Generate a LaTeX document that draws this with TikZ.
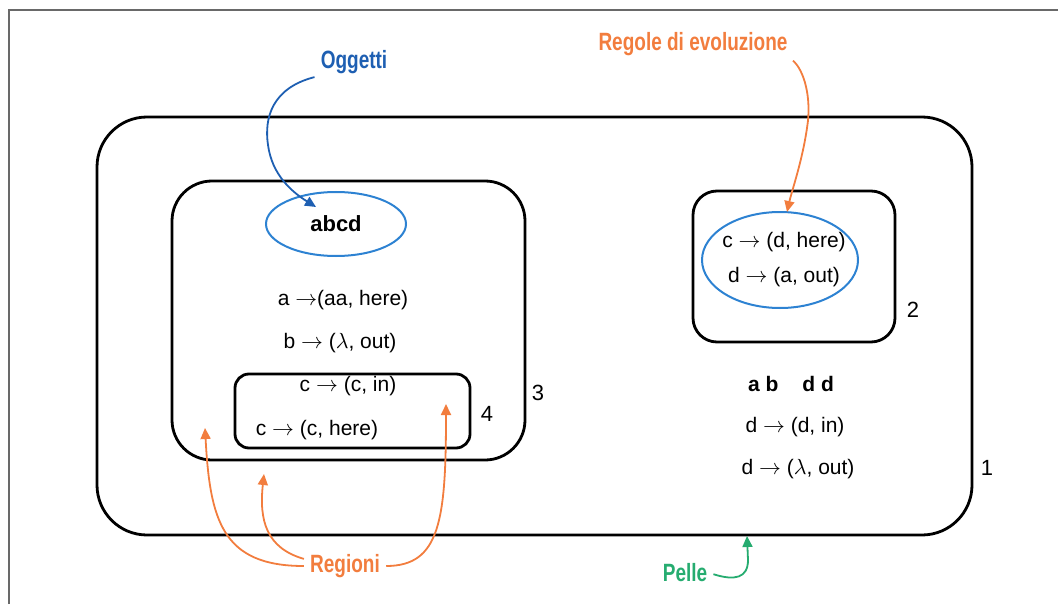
\documentclass[tikz,border=0pt]{standalone}
\usepackage{fontspec}
\setmainfont{Liberation Sans}
\newfontfamily\labelfont[FakeStretch=0.76]{Liberation Sans}
\usepackage{tikz}
\usetikzlibrary{arrows.meta}
\usetikzlibrary{positioning}
\usetikzlibrary{shapes.geometric}
\definecolor{objblue}{RGB}{30,95,178}
\definecolor{setblue}{RGB}{45,130,210}
\definecolor{ruleorange}{RGB}{242,125,62}
\definecolor{skingreen}{RGB}{38,172,112}
\definecolor{framegray}{RGB}{105,105,105}

\begin{document}
\begin{tikzpicture}[
    x=0.5pt, y=-0.5pt,
    % styles
    membrane/.style={line width=1.4pt, black},
    multiset/.style={line width=1pt, setblue},
    rule/.style={font=\fontsize{10.5}{12}\selectfont, inner sep=1pt},
    num/.style={font=\fontsize{11}{13}\selectfont, inner sep=1pt},
    tag/.style={font=\labelfont\bfseries\fontsize{12.5}{14}\selectfont, inner sep=1pt},
    pointer/.style={line width=0.9pt, shorten <=2pt, -{Triangle[length=5.5pt, width=5pt]}}]

    \useasboundingbox (0,0) rectangle (1058,604);

    % frame
    \draw [framegray, line width=0.8pt] (9,604) -- (9,10) -- (1058,10);

    % membranes
    \draw [membrane, rounded corners=25pt] (97,117) rectangle (972,535);
    \draw [membrane, rounded corners=20pt] (172,181) rectangle (525,460);
    \draw [membrane, rounded corners=7pt] (235,374) rectangle (470,448);
    \draw [membrane, rounded corners=12pt] (693,191) rectangle (895,342);

    % multisets
    \node [multiset, draw, ellipse, minimum width=70pt, minimum height=32pt,
      text=black, font=\bfseries\fontsize{11}{13}\selectfont] (objects) at (336,224) {abcd};
    \draw [multiset] (780,260) ellipse (39pt and 24pt);

    % rules, region 3 and 4
    \node [rule] (r3a) at (343,300) {a $\rightarrow$(aa, here)};
    \node [rule] (r3b) at (340,343) {b $\rightarrow$ ($\lambda$, out)};
    \node [rule] (r4a) at (348,386) {c $\rightarrow$ (c, in)};
    \node [rule] (r4b) at (317,430) {c $\rightarrow$ (c, here)};

    % rules, region 2
    \node [rule] (r2a) at (784,242) {c $\rightarrow$ (d, here)};
    \node [rule] (r2b) at (784,277) {d $\rightarrow$ (a, out)};

    % region 1
    \node [rule, font=\bfseries\fontsize{10.5}{12}\selectfont] (obj1) at (791,384)
      {a b\hspace{12pt}d d};
    \node [rule] (r1a) at (795,427) {d $\rightarrow$ (d, in)};
    \node [rule] (r1b) at (798,469) {d $\rightarrow$ ($\lambda$, out)};

    % membrane numbers
    \node [num] (n1) at (987,468) {1};
    \node [num] (n2) at (913,310) {2};
    \node [num] (n3) at (538,393) {3};
    \node [num] (n4) at (487,414) {4};

    % labels
    \node [tag, objblue] (oggetti) at (354,62) {Oggetti};
    \node [tag, ruleorange] (regole) at (693,44) {Regole di evoluzione};
    \node [tag, ruleorange] (regioni) at (345,566) {Regioni};
    \node [tag, skingreen] (pelle) at (685,573) {Pelle};

    % arrow tips
    \coordinate (objects-tip) at (316,207);
    \coordinate (rules-tip) at (787,212);
    \coordinate (reg3-tip) at (205,428);
    \coordinate (reg1-tip) at (264,474);
    \coordinate (reg4-tip) at (446,404);
    \coordinate (skin-tip) at (747,536);

    % pointers
    \draw [pointer, objblue] (oggetti.south west)
      .. controls (272,88) and (264,118) .. (268,145)
      .. controls (272,175) and (292,192) .. (objects-tip);
    \draw [pointer, ruleorange] (regole.south east)
      .. controls (804,70) and (812,98) .. (807,128)
      .. controls (802,162) and (792,190) .. (rules-tip);
    \draw [pointer, ruleorange] (regioni.west)
      .. controls (222,566) and (210,520) .. (reg3-tip);
    \draw [pointer, ruleorange] ([yshift=3pt]regioni.west)
      .. controls (266,548) and (259,520) .. (reg1-tip);
    \draw [pointer, ruleorange] (regioni.east)
      .. controls (440,566) and (446,520) .. (reg4-tip);
    \draw [pointer, skingreen] (pelle.east)
      .. controls (735,581) and (748,578) .. (748,560) -- (skin-tip);

  \end{tikzpicture}
\end{document}
